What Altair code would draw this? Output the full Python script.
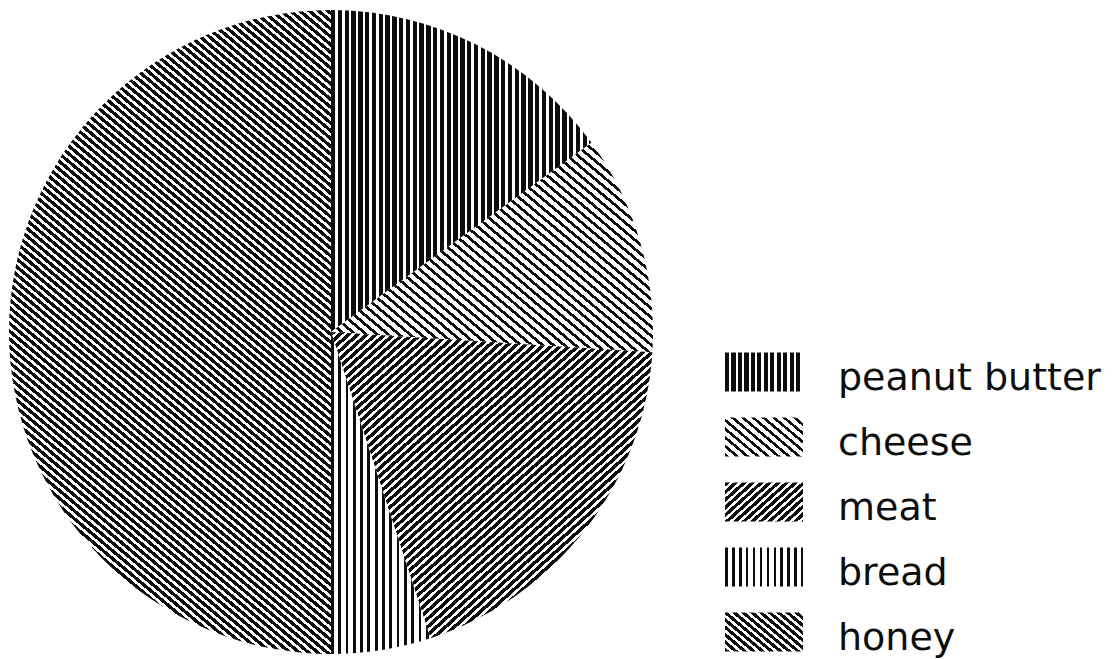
import math
import altair as alt
import pandas as pd

# Lunch-box fillings and their share of the pie (percent)
foods = ["peanut butter", "cheese", "meat", "bread", "honey"]
shares = [15, 11, 19, 5, 50]

# Hatching per filling: (stripe kind, angle from horizontal in degrees, period px, ink fraction)
hatching = {
    "peanut butter": ("vertical", 90, 6.8, 0.64),
    "cheese": ("backslash", 40, 7.0, 0.40),
    "meat": ("slash", 42, 6.0, 0.58),
    "bread": ("vertical", 90, 7.3, 0.38),
    "honey": ("backslash", 40, 6.0, 0.55),
}

INK = "#0d0d0d"
PAPER = "#ffffff"
CX, CY, R = 331, 332, 322          # pie centre and radius in pixels
SW_X0, SW_X1 = 725, 803            # legend swatch horizontal extent
LABEL_X = 838

total = sum(shares)
starts, ends, acc = [], [], 0
for s in shares:
    starts.append(acc)
    acc += s
    ends.append(acc)
df = pd.DataFrame({"food": foods, "share": shares, "start": starts, "end": ends})


def stripe_normal(kind, angle):
    t = math.radians(angle)
    if kind == "vertical":
        return (1.0, 0.0)
    if kind == "backslash":      # lines running down to the right
        return (math.sin(t), -math.cos(t))
    return (math.sin(t), math.cos(t))  # lines running up to the right


def hatch_gradient(w, h, kind, angle, period, duty):
    """Linear gradient (bounding-box units) that paints evenly spaced stripes."""
    nx, ny = stripe_normal(kind, angle)
    corners = [(0, 0), (1, 0), (0, 1), (1, 1)]
    proj = [nx * u * w + ny * v * h for u, v in corners]
    smin, smax = min(proj), max(proj)
    span = smax - smin
    p1 = corners[proj.index(smin)]
    ku, kv = w * nx / span, h * ny / span
    kk = ku * ku + kv * kv
    gu, gv = ku / kk, kv / kk
    step = period / span
    stops = []
    a = 0.0
    while a < 1.0:
        b = min(a + duty * step, 1.0)
        c = min(a + step, 1.0)
        stops += [(a, INK), (b, INK), (b, PAPER), (c, PAPER)]
        a += step
    return alt.Gradient(
        gradient="linear",
        x1=p1[0], y1=p1[1], x2=p1[0] + gu, y2=p1[1] + gv,
        stops=[alt.GradientStop(offset=round(o, 6), color=col) for o, col in stops],
    )


def wedge_box(a0, a1, r):
    """Bounding box of a pie wedge (angles clockwise from 12 o'clock)."""
    pts = [(0.0, 0.0), (r * math.sin(a0), -r * math.cos(a0)), (r * math.sin(a1), -r * math.cos(a1))]
    for q in (0, math.pi / 2, math.pi, 1.5 * math.pi, 2 * math.pi):
        if a0 < q < a1:
            pts.append((r * math.sin(q), -r * math.cos(q)))
    xs = [p[0] for p in pts]
    ys = [p[1] for p in pts]
    return max(xs) - min(xs), max(ys) - min(ys)


theta_scale = alt.Scale(domain=[0, total], range=[0, 2 * math.pi])
row_scale = alt.Scale(domain=foods, range=[339.5, 664.5], paddingInner=0.4, paddingOuter=0.2)

layers = []
for f, s0, s1 in zip(foods, starts, ends):
    kind, ang, per, duty = hatching[f]
    a0 = s0 / total * 2 * math.pi
    a1 = s1 / total * 2 * math.pi
    w, h = wedge_box(a0, a1, R)
    layers.append(
        alt.Chart(df)
        .transform_filter(alt.datum.food == f)
        .mark_arc(radius=R, fill=hatch_gradient(w, h, kind, ang, per, duty))
        .encode(
            theta=alt.Theta("start:Q", stack=None, scale=theta_scale),
            theta2="end:Q",
            x=alt.value(CX),
            y=alt.value(CY),
        )
    )

for f in foods:
    kind, ang, per, duty = hatching[f]
    layers.append(
        alt.Chart(df)
        .transform_filter(alt.datum.food == f)
        .mark_rect(fill=hatch_gradient(SW_X1 - SW_X0, 39, kind, ang, per * 0.95, duty))
        .encode(
            x=alt.value(SW_X0),
            x2=alt.value(SW_X1),
            y=alt.Y("food:N", scale=row_scale, axis=None),
        )
    )

labels = (
    alt.Chart(df)
    .mark_text(font="DejaVu Sans", fontSize=38, align="left", baseline="alphabetic", dy=18, color=INK)
    .encode(
        x=alt.value(LABEL_X),
        y=alt.Y("food:N", scale=row_scale, axis=None),
        text="food:N",
    )
)
layers.append(labels)

chart = (
    alt.layer(*layers)
    .properties(width=1112, height=659, padding=0, autosize=alt.AutoSizeParams(type="none"), background="white")
    .configure_view(strokeWidth=0)
)

chart.save("out.html", embed_options={"renderer": "svg", "actions": False})
